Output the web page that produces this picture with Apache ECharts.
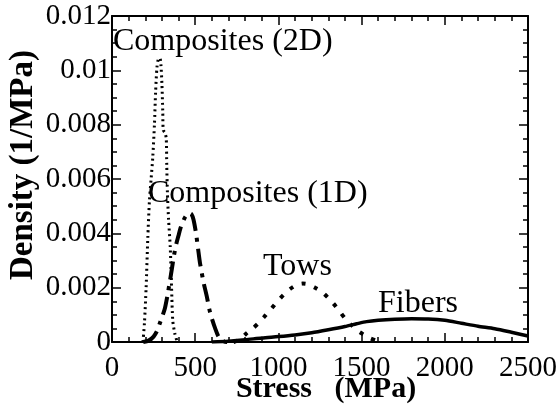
<!DOCTYPE html>
<html>
<head>
<meta charset="utf-8">
<script src="https://cdn.jsdelivr.net/npm/echarts@6/dist/echarts.min.js"></script>
<style>
html,body{margin:0;padding:0;background:#fff;}
#chart{width:560px;height:407px;}
</style>
</head>
<body>
<div id="chart"></div>
<script>
// ---- data ----
var xTicks = [0, 500, 1000, 1500, 2000, 2500];
var yTicks = [0, 0.002, 0.004, 0.006, 0.008, 0.01, 0.012];

var comp2dX = [186, 195, 205, 215, 225, 235, 245, 255, 262, 270, 278, 288, 294, 300, 305, 308, 318, 326, 329, 333, 340, 350, 358, 365, 378, 392];
var comp2dY = [0, 0.0007, 0.002, 0.0038, 0.0052, 0.006, 0.0068, 0.008, 0.0092, 0.0101, 0.0104, 0.01045, 0.0102, 0.0095, 0.0085, 0.0078, 0.0077, 0.0075, 0.0065, 0.0055, 0.0045, 0.0035, 0.002, 0.0008, 0.0003, 0];

var comp1dX = [188, 220, 250, 270, 288, 303, 318, 333, 349, 360, 373, 386, 399, 412, 425, 440, 462, 478, 490, 505, 520, 529, 550, 570, 585, 600, 620, 640, 665, 690, 730];
var comp1dY = [0, 0.00005, 0.0002, 0.0004, 0.0007, 0.00095, 0.00124, 0.0017, 0.00228, 0.0027, 0.0032, 0.0036, 0.0039, 0.0042, 0.0044, 0.0046, 0.00475, 0.0047, 0.0045, 0.004, 0.0033, 0.0029, 0.0022, 0.00167, 0.0012, 0.00087, 0.0005, 0.0002, 0.00005, 0, 0];

var towsX = [730, 770, 809, 850, 889, 925, 960, 995, 1030, 1070, 1110, 1145, 1180, 1220, 1260, 1295, 1330, 1365, 1400, 1435, 1470, 1510, 1550, 1590, 1625];
var towsY = [0, 0.0001, 0.00032, 0.00052, 0.00075, 0.001, 0.00124, 0.0015, 0.00173, 0.00195, 0.0021, 0.00215, 0.00212, 0.002, 0.00185, 0.00165, 0.00142, 0.00115, 0.00087, 0.00065, 0.00044, 0.00028, 0.00014, 0.00005, 0];

var fibersX = [600, 700, 800, 900, 1000, 1100, 1200, 1300, 1400, 1470, 1530, 1600, 1700, 1800, 1900, 2000, 2100, 2200, 2300, 2400, 2500];
var fibersY = [0, 0.00003, 0.00008, 0.00015, 0.0002, 0.00026, 0.00034, 0.00045, 0.00057, 0.00067, 0.00075, 0.0008, 0.00084, 0.00086, 0.00085, 0.0008, 0.00069, 0.00058, 0.00049, 0.00036, 0.00022];

var seriesNames = ['Composites (2D)', 'Composites (1D)', 'Tows', 'Fibers'];
var xTitle = 'Stress   (MPa)';
var yTitle = 'Density (1/MPa)';

function pairs(xs, ys) { return xs.map(function (x, i) { return [x, ys[i]]; }); }

var FONT = '"Liberation Serif", "Times New Roman", serif';

function axisCommon(showLabel) {
  return {
    axisLine: { show: true, onZero: false, lineStyle: { color: '#000', width: 2 } },
    axisTick: { show: true, inside: true, length: 9, lineStyle: { color: '#000', width: 1.5 } },
    minorTick: { show: true, length: 5, lineStyle: { color: '#000', width: 1.5 } },
    splitLine: { show: false },
    axisLabel: { show: showLabel, color: '#000', fontFamily: FONT, fontSize: 29 }
  };
}

var chart = echarts.init(document.getElementById('chart'), null, { renderer: 'canvas' });

var xBase = axisCommon(true);
var xBottom = Object.assign({}, xBase, {
  type: 'value', position: 'bottom', min: xTicks[0], max: xTicks[xTicks.length - 1], interval: xTicks[1] - xTicks[0],
  minorTick: Object.assign({}, xBase.minorTick, { splitNumber: 5 }),
  axisLabel: Object.assign({}, xBase.axisLabel, { margin: 12, formatter: function (v) { return String(v); } })
});
var xTopBase = axisCommon(false);
var xTop = Object.assign({}, xTopBase, {
  type: 'value', position: 'top', min: xTicks[0], max: xTicks[xTicks.length - 1], interval: xTicks[1] - xTicks[0],
  minorTick: Object.assign({}, xTopBase.minorTick, { splitNumber: 5 })
});
var yBase = axisCommon(true);
var yLeft = Object.assign({}, yBase, {
  type: 'value', position: 'left', min: yTicks[0], max: yTicks[yTicks.length - 1], interval: yTicks[1] - yTicks[0],
  minorTick: Object.assign({}, yBase.minorTick, { splitNumber: 4 }),
  axisLabel: Object.assign({}, yBase.axisLabel, { margin: 1, formatter: function (v) { return String(+v.toFixed(4)); } })
});
var yRightBase = axisCommon(false);
var yRight = Object.assign({}, yRightBase, {
  type: 'value', position: 'right', min: yTicks[0], max: yTicks[yTicks.length - 1], interval: yTicks[1] - yTicks[0],
  minorTick: Object.assign({}, yRightBase.minorTick, { splitNumber: 4 })
});

function lineSeries(name, xs, ys, width, dash) {
  return {
    name: name, type: 'line', xAxisIndex: 0, yAxisIndex: 0,
    data: pairs(xs, ys), showSymbol: false, smooth: 0.25, silent: true,
    lineStyle: { color: '#000', width: width, type: dash, cap: 'butt' },
    z: 3
  };
}

chart.setOption({
  animation: false,
  backgroundColor: '#fff',
  grid: { left: 112, right: 32, top: 16, bottom: 65, containLabel: false },
  xAxis: [xBottom, xTop],
  yAxis: [yLeft, yRight],
  series: [
    lineSeries(seriesNames[0], comp2dX, comp2dY, 3, [2, 3.5]),
    lineSeries(seriesNames[1], comp1dX, comp1dY, 4, [18, 7, 4, 7]),
    lineSeries(seriesNames[2], towsX, towsY, 4, [4, 9]),
    lineSeries(seriesNames[3], fibersX, fibersY, 3.5, 'solid')
  ],
  graphic: [
    { type: 'text', left: 113, top: 26, z: 10, style: { text: seriesNames[0], font: '32px ' + FONT, fill: '#000' } },
    { type: 'text', left: 148, top: 178, z: 10, style: { text: seriesNames[1], font: '32px ' + FONT, fill: '#000' } },
    { type: 'text', left: 263, top: 251, z: 10, style: { text: seriesNames[2], font: '32px ' + FONT, fill: '#000' } },
    { type: 'text', left: 378, top: 288, z: 10, style: { text: seriesNames[3], font: '32px ' + FONT, fill: '#000' } },
    { type: 'text', x: 326, y: 389, z: 10, style: { text: xTitle, font: 'bold 30px ' + FONT, fill: '#000', align: 'center', verticalAlign: 'middle' } },
    { type: 'text', x: 23, y: 165, rotation: Math.PI / 2, z: 10, style: { text: yTitle, font: 'bold 33px ' + FONT, fill: '#000', align: 'center', verticalAlign: 'middle' } }
  ]
});
</script>
</body>
</html>
